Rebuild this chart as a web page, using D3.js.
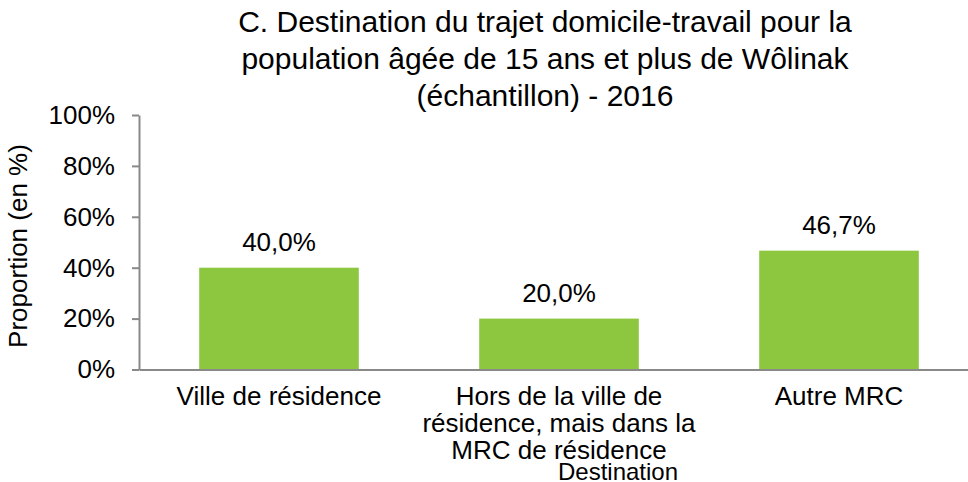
<!DOCTYPE html>
<html>
<head>
<meta charset="utf-8">
<script src="https://cdn.jsdelivr.net/npm/d3@7"></script>
<style>
  body { margin: 0; background: #fff; }
  svg { display: block; font-family: "Liberation Sans", Arial, sans-serif; }
  .domain, .tick line { stroke: #898989; stroke-width: 2px; }
</style>
</head>
<body>
<div id="container"></div>
<script>
// values
const categories = ["Ville de résidence", "Hors de la ville de résidence, mais dans la MRC de résidence", "Autre MRC"];
const categoryLines = [["Ville de résidence"], ["Hors de la ville de", "résidence, mais dans la", "MRC de résidence"], ["Autre MRC"]];
const values = [40.0, 20.0, 46.7];
const yTicks = [0, 20, 40, 60, 80, 100];
const titleLines = ["C. Destination du trajet domicile-travail pour la", "population âgée de 15 ans et plus de Wôlinak", "(échantillon) - 2016"];

const w = 968;
const h = 482;
const plotLeft = 139, plotRight = 979, plotTop = 115, plotBottom = 369.5;

const svg = d3.select("#container")
              .append("svg")
              .attr("width", w)
              .attr("height", h);

const xScale = d3.scaleBand()
                 .domain(categories)
                 .range([plotLeft, plotRight])
                 .paddingInner(0.43)
                 .paddingOuter(0.215);

const yScale = d3.scaleLinear()
                 .domain([0, 100])
                 .range([plotBottom, plotTop]);

// title
svg.append("g")
   .selectAll("text")
   .data(titleLines)
   .enter()
   .append("text")
   .attr("x", 545)
   .attr("y", (d, i) => 32 + i * 37)
   .attr("text-anchor", "middle")
   .style("font-size", "30px")
   .style("fill", "#000")
   .text(d => d);

// y axis
const yAxis = d3.axisLeft(yScale)
                .tickValues(yTicks)
                .tickSize(7)
                .tickSizeOuter(0)
                .tickPadding(17)
                .tickFormat(d => d + "%");

const gy = svg.append("g")
   .attr("transform", "translate(" + plotLeft + ",0)")
   .call(yAxis);
gy.selectAll("text").style("font-size", "26px").style("fill", "#000").style("font-family", "Liberation Sans, Arial, sans-serif");

// bars
svg.selectAll("rect.bar")
   .data(values)
   .enter()
   .append("rect")
   .attr("class", "bar")
   .attr("x", (d, i) => xScale(categories[i]))
   .attr("y", d => yScale(d))
   .attr("width", xScale.bandwidth())
   .attr("height", d => yScale(0) - yScale(d))
   .attr("fill", "#8dc63f");

// x axis line
const xAxis = d3.axisBottom(xScale).tickSize(0).tickFormat("");
svg.append("g")
   .attr("transform", "translate(0," + plotBottom + ")")
   .call(xAxis);

// value labels
svg.selectAll("text.val")
   .data(values)
   .enter()
   .append("text")
   .attr("class", "val")
   .attr("x", (d, i) => xScale(categories[i]) + xScale.bandwidth() / 2)
   .attr("y", d => yScale(d) - 17)
   .attr("text-anchor", "middle")
   .style("font-size", "26px")
   .text(d => d.toFixed(1).replace(".", ",") + "%");

// category labels
categoryLines.forEach((lines, i) => {
  svg.append("text")
     .attr("text-anchor", "middle")
     .attr("x", xScale(categories[i]) + xScale.bandwidth() / 2)
     .attr("y", 405)
     .style("font-size", "26px")
     .selectAll("tspan")
     .data(lines)
     .enter()
     .append("tspan")
     .attr("x", xScale(categories[i]) + xScale.bandwidth() / 2)
     .attr("dy", (d, j) => j === 0 ? 0 : 27)
     .text(d => d);
});

// axis titles
svg.append("text")
   .attr("x", 618)
   .attr("y", 480)
   .attr("text-anchor", "middle")
   .style("font-size", "24px")
   .text("Destination");

svg.append("text")
   .attr("transform", "translate(27,246) rotate(-90)")
   .attr("text-anchor", "middle")
   .style("font-size", "26px")
   .text("Proportion (en %)");
</script>
</body>
</html>
